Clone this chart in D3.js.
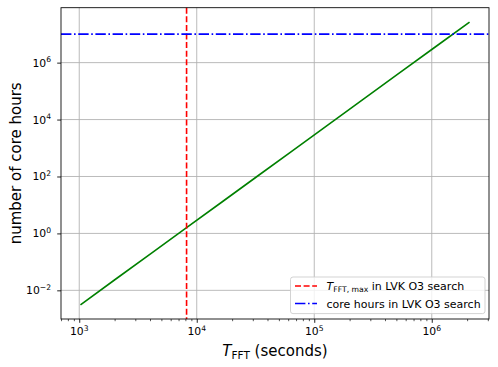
<!DOCTYPE html>
<html><head><meta charset="utf-8">
<script src="https://cdn.jsdelivr.net/npm/d3@7"></script>
<style>body{margin:0;background:#fff}svg{display:block;font-family:"DejaVu Sans",sans-serif}</style>
</head><body><svg id="c" width="498" height="367"></svg>
<script>
const tfft = [1024, 2048, 4096, 8192, 16384, 32768, 65536, 131072, 262144, 524288, 1048576, 2097152];
const coreHours = [0.0031, 0.025, 0.2, 1.6, 12.7, 102, 814, 6510, 52100, 417000, 3330000, 26700000];
const tfftMaxO3 = 8192;
const coreHoursO3 = 1e7;
const xMajorTicks = [1e3, 1e4, 1e5, 1e6];
const xTickExps = ["3", "4", "5", "6"];
const yMajorTicks = [1e-2, 1e0, 1e2, 1e4, 1e6];
const yTickExps = ["\u22122", "0", "2", "4", "6"];

const svg = d3.select("#c");
const L = 61, R = 489, T = 7.7, B = 319;
const x = d3.scaleLog().domain([Math.pow(10, 2.8447), Math.pow(10, 6.4872)]).range([L, R]);
const y = d3.scaleLog().domain([Math.pow(10, -3.007), Math.pow(10, 7.93)]).range([B, T]);

const g = svg.append("g");
// grid
g.selectAll(".gx").data(xMajorTicks).enter().append("line")
  .attr("x1", d => x(d)).attr("x2", d => x(d)).attr("y1", T).attr("y2", B)
  .attr("stroke", "#b0b0b0").attr("stroke-width", 0.87);
g.selectAll(".gy").data(yMajorTicks).enter().append("line")
  .attr("y1", d => y(d)).attr("y2", d => y(d)).attr("x1", L).attr("x2", R)
  .attr("stroke", "#b0b0b0").attr("stroke-width", 0.87);

// data line
const line = d3.line().x((d, i) => x(tfft[i])).y(d => y(d));
g.append("path").datum(coreHours).attr("d", line).attr("fill", "none")
  .attr("stroke", "#008000").attr("stroke-width", 1.6);

// red vertical dashed
g.append("line").attr("x1", x(tfftMaxO3)).attr("x2", x(tfftMaxO3)).attr("y1", T).attr("y2", B)
  .attr("stroke", "#ff0000").attr("stroke-width", 1.6).attr("stroke-dasharray", "6,2.6");
// blue horizontal dashdot
g.append("line").attr("x1", L).attr("x2", R).attr("y1", y(coreHoursO3)).attr("y2", y(coreHoursO3))
  .attr("stroke", "#0000ff").attr("stroke-width", 1.6).attr("stroke-dasharray", "10.4,2.6,1.6,2.6");

// axes
const xAxis = d3.axisBottom(x).tickValues(xMajorTicks).tickFormat("").tickSize(3.8);
const minorX = [];
for (let e = 2; e <= 6; e++) for (let m = 2; m <= 9; m++) { const v = m * Math.pow(10, e); if (v >= x.domain()[0] && v <= x.domain()[1]) minorX.push(v); }
const xMinor = d3.axisBottom(x).tickValues(minorX).tickFormat("").tickSize(2.2);
const yAxis = d3.axisLeft(y).tickValues(yMajorTicks).tickFormat("").tickSize(3.8);

function styleAxis(sel, w) {
  sel.select(".domain").remove();
  sel.selectAll(".tick line").attr("stroke", "#000").attr("stroke-width", w);
}
g.append("g").attr("transform", `translate(0,${B})`).call(xAxis).call(s => styleAxis(s, 0.87));
g.append("g").attr("transform", `translate(0,${B})`).call(xMinor).call(s => styleAxis(s, 0.65));
g.append("g").attr("transform", `translate(${L},0)`).call(yAxis).call(s => styleAxis(s, 0.87));

// tick labels
xMajorTicks.forEach((v, i) => {
  const t = svg.append("text").attr("x", x(v)).attr("y", 335).attr("text-anchor", "middle")
    .attr("font-size", 10.8).attr("fill", "#000");
  t.append("tspan").text("10");
  t.append("tspan").attr("dy", -4.5).attr("font-size", 7.6).text(xTickExps[i]);
});
yMajorTicks.forEach((v, i) => {
  const t = svg.append("text").attr("x", 51).attr("y", y(v) + 4).attr("text-anchor", "end")
    .attr("font-size", 10.8).attr("fill", "#000");
  t.append("tspan").text("10");
  t.append("tspan").attr("dy", -4.5).attr("font-size", 7.6).text(yTickExps[i]);
});

// spines
svg.append("rect").attr("x", L).attr("y", T).attr("width", R - L).attr("height", B - T)
  .attr("fill", "none").attr("stroke", "#000").attr("stroke-width", 0.87);

// axis labels
const xl = svg.append("text").attr("x", (L + R) / 2).attr("y", 356).attr("text-anchor", "middle")
  .attr("font-size", 15).attr("fill", "#000");
xl.append("tspan").attr("font-style", "italic").text("T");
xl.append("tspan").attr("font-size", 10.5).attr("dy", 3).text("FFT");
xl.append("tspan").attr("dy", -3).text(" (seconds)");

svg.append("text").attr("transform", `translate(21,${(T + B) / 2}) rotate(-90)`)
  .attr("text-anchor", "middle").attr("font-size", 15).attr("fill", "#000").text("number of core hours");

// legend
const lg = svg.append("g");
lg.append("rect").attr("x", 290.5).attr("y", 277).attr("width", 194.5).attr("height", 36.6).attr("rx", 2.5)
  .attr("fill", "#fff").attr("fill-opacity", 0.8).attr("stroke", "#cccccc").attr("stroke-width", 0.87);
lg.append("line").attr("x1", 295).attr("x2", 317).attr("y1", 286).attr("y2", 286)
  .attr("stroke", "#ff0000").attr("stroke-width", 1.6).attr("stroke-dasharray", "6,2.6");
lg.append("line").attr("x1", 295).attr("x2", 317).attr("y1", 303.5).attr("y2", 303.5)
  .attr("stroke", "#0000ff").attr("stroke-width", 1.6).attr("stroke-dasharray", "10.4,2.6,1.6,2.6");
const l1 = lg.append("text").attr("x", 326.5).attr("y", 290).attr("font-size", 11).attr("fill", "#000");
l1.append("tspan").attr("font-style", "italic").text("T");
l1.append("tspan").attr("font-size", 7.7).attr("dy", 2.2).text("FFT, max");
l1.append("tspan").attr("dy", -2.2).text(" in LVK O3 search");
lg.append("text").attr("x", 326.5).attr("y", 307.5).attr("font-size", 11).attr("fill", "#000").text("core hours in LVK O3 search");
</script></body></html>
